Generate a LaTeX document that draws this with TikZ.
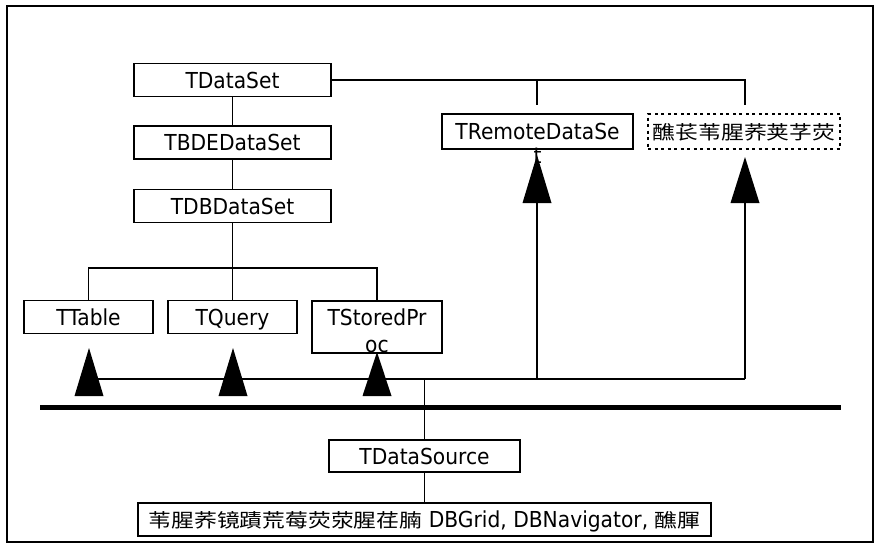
\documentclass[tikz,border=0pt]{standalone}
\usepackage{fontspec}
\setmainfont{DejaVu Sans}[FakeStretch=0.92]
\newfontfamily\cjk{Noto Sans CJK SC}[FakeStretch=1.2]
\newcommand\cj[1]{{\fontsize{19}{24}\cjk #1}}
\begin{document}
\begin{tikzpicture}[x=1pt,y=-1pt,
  font=\fontsize{22}{27}\selectfont,
  conn/.style={line width=1.5pt},
  box/.style={draw,line width=1.5pt,inner sep=0pt,minimum height=33pt,text height=16pt,text depth=0pt},
  dbox/.style={draw,line width=1.5pt,dash pattern=on 3pt off 3.5pt,inner sep=0pt,minimum height=35pt,text height=16pt,text depth=0pt},
  lbl/.style={inner sep=0pt,anchor=base},
  tri/.style={fill=black}]
\useasboundingbox (0,0) rectangle (881,547);
\draw[line width=2pt] (7,6) rectangle (873,542);

% left hierarchy
\node[box,minimum width=197pt] (ds) at (232.5,80) {TDataSet};
\node[box,minimum width=197pt] (bde) at (232.5,142.5) {TBDEDataSet};
\node[box,minimum width=197pt] (db) at (232.5,206) {TDBDataSet};
\node[box,minimum width=129pt] (tab) at (88.5,317) {TTable};
\node[box,minimum width=129pt] (qry) at (232.5,317) {TQuery};
\node[box,minimum width=130pt,minimum height=52pt] (sp) at (377,327) {};
\node[lbl] (sp1) at (377,325) {TStoredPr};
\node[lbl] (sp2) at (377,352) {oc};

% right boxes
\node[box,minimum width=191pt,minimum height=35pt] (rem) at (537.5,131.5) {};
\node[lbl] (rem1) at (537.5,139) {TRemoteDataSe};
\node[lbl] (rem2) at (537.5,163) {t};
\node[dbox,minimum width=192pt] (dd) at (744,131.5) {\cj{醮苌苇腥荞荚芓荧}};

% tree connectors
\draw[conn] (ds) -- (bde);
\draw[conn] (bde) -- (db);
\coordinate (j) at (232.5,268);
\draw[conn] (db) -- (j);
\draw[conn] (tab.north) |- (j) -| (sp.north);
\draw[conn] (j) -- (qry.north);
\coordinate (rtop) at (537,105);
\coordinate (dtop) at (745,105);
\draw[conn] (ds.east) -| (dtop);
\draw[conn] (ds.east -| rtop) -- (rtop);

% bus and triangles
\coordinate (b1) at (89,379);
\coordinate (b2) at (745,379);
\coordinate (br) at (537,379);
\coordinate (rbase) at (537,203);
\coordinate (dbase) at (745,203);
\draw[conn] (b1) -- (b2);
\draw[conn] (br) -- (rbase);
\draw[conn] (b2) -- (dbase);
\fill[tri] (89,348) -- (74.5,396) -- (103.5,396) -- cycle;
\fill[tri] (233,348) -- (218.5,396) -- (247.5,396) -- cycle;
\fill[tri] (377,352) -- (362.5,396) -- (391.5,396) -- cycle;
\fill[tri] (537,155) -- (522.5,203) -- (551.5,203) -- cycle;
\fill[tri] (745,157) -- (730.5,203) -- (759.5,203) -- cycle;

\draw[line width=5.5pt] (40,407.5) -- (841,407.5);

% lower part
\node[box,minimum width=191pt,minimum height=32pt] (src) at (424.5,456) {TDataSource};
\node[box,minimum width=573pt] (ui) at (424.5,519.5) {\cj{苇腥荞镜蹟荒莓荧荥腥荏腩} DBGrid, DBNavigator, \cj{醮腪}};
\coordinate (bj) at (424.5,379);
\draw[conn] (bj) -- (src.north);
\draw[conn] (src) -- (ui);
\end{tikzpicture}
\end{document}
